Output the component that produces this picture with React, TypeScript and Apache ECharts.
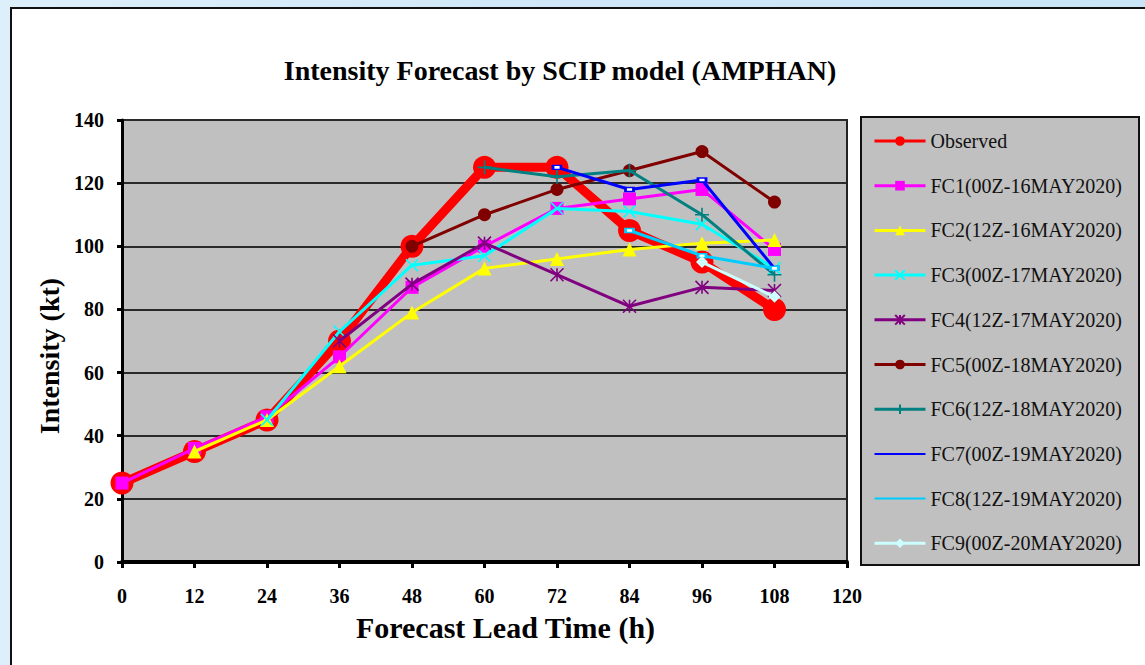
import React, { useEffect, useRef } from "react";
import * as echarts from "echarts";

const leadTimes = [0, 12, 24, 36, 48, 60, 72, 84, 96, 108];
const xTicks = [0, 12, 24, 36, 48, 60, 72, 84, 96, 108, 120];
const yTicks = [0, 20, 40, 60, 80, 100, 120, 140];

const observed = [25, 35, 45, 70, 100, 125, 125, 105, 95, 80];
const fc1 = [25, 36, 46, 65, 87, 100, 112, 115, 118, 99];
const fc2 = [null, 35, 45, 62, 79, 93, 96, 99, 101, 102];
const fc3 = [null, null, 45, 73, 94, 97, 112, 111, 107, 93];
const fc4 = [null, null, null, 70, 88, 101, 91, 81, 87, 86];
const fc5 = [null, null, null, null, 100, 110, 118, 124, 130, 114];
const fc6 = [null, null, null, null, null, 125, 122, 124, 110, 91];
const fc7 = [null, null, null, null, null, null, 125, 118, 121, 93];
const fc8 = [null, null, null, null, null, null, null, 105, 97, 93];
const fc9 = [null, null, null, null, null, null, null, null, 95, 84];

const names = [
  "Observed",
  "FC1(00Z-16MAY2020)",
  "FC2(12Z-16MAY2020)",
  "FC3(00Z-17MAY2020)",
  "FC4(12Z-17MAY2020)",
  "FC5(00Z-18MAY2020)",
  "FC6(12Z-18MAY2020)",
  "FC7(00Z-19MAY2020)",
  "FC8(12Z-19MAY2020)",
  "FC9(00Z-20MAY2020)",
];
const values = [observed, fc1, fc2, fc3, fc4, fc5, fc6, fc7, fc8, fc9];
const colors = [
  "#ff0000",
  "#ff00ff",
  "#ffff00",
  "#00ffff",
  "#800080",
  "#800000",
  "#008080",
  "#0000ff",
  "#00ccff",
  "#ccffff",
];

const X_SYM = "path://M0,0L10,10M10,0L0,10";
const AST_SYM = "path://M0,0L10,10M10,0L0,10M5,0L5,10";
const PLUS_SYM = "path://M5,0L5,10M0,5L10,5";
const LINE_ICON = "path://M0,0H51V2H0Z";

const symbols: any[] = [
  "circle",
  "rect",
  "triangle",
  X_SYM,
  AST_SYM,
  "circle",
  PLUS_SYM,
  "emptyRect",
  "emptyRect",
  "diamond",
];
const symbolSizes: any[] = [23, 13, 14, 12, 13, 13, 14, [8, 4], [8, 4], 12];

const SERIF = "'Liberation Serif', 'Times New Roman', serif";

export default function App() {
  const ref = useRef<HTMLDivElement>(null);
  useEffect(() => {
    document.body.style.margin = "0";
    const chart = echarts.init(ref.current!, undefined, { renderer: "svg" });
    const series = names.map((name, si) => ({
      name,
      type: "line",
      data: leadTimes
        .map((t, i) => [t, values[si][i]])
        .filter((p) => p[1] !== null),
      symbol: symbols[si],
      symbolSize: symbolSizes[si],
      showAllSymbol: true,
      lineStyle: { color: colors[si], width: si === 0 ? 9 : 3 },
      itemStyle: {
        color: colors[si],
        borderColor: colors[si],
        borderWidth: si === 3 || si === 4 || si === 6 ? 1.6 : si === 7 || si === 8 ? 1.2 : 0,
      },
      emphasis: { disabled: true },
      z: 2 + si,
    }));
    chart.setOption({
      animation: false,
      backgroundColor: {
        type: "linear",
        x: 0,
        y: 0,
        x2: 1,
        y2: 0,
        colorStops: [
          { offset: 0, color: "#ddeffa" },
          { offset: 0.5, color: "#cfe7f8" },
          { offset: 1, color: "#c9e5f8" },
        ],
      },
      title: {
        text: "Intensity Forecast by SCIP model (AMPHAN)",
        left: 560,
        top: 56,
        padding: 0,
        textAlign: "center",
        textStyle: {
          fontFamily: SERIF,
          fontWeight: "bold",
          fontSize: 28,
          color: "#000",
        },
      },
      graphic: [
        {
          type: "rect",
          z: -10,
          shape: { x: 11, y: 8, width: 1200, height: 700 },
          style: { fill: "#ffffff", stroke: "#111", lineWidth: 2 },
        },
        {
          type: "rect",
          z: -5,
          shape: { x: 861, y: 117, width: 278, height: 448 },
          style: { fill: "#c0c0c0", stroke: "#111", lineWidth: 2 },
        },
      ],
      grid: {
        left: 122,
        right: 298,
        top: 120,
        bottom: 103,
        show: true,
        backgroundColor: "#c0c0c0",
        borderColor: "#222",
        borderWidth: 2,
      },
      legend: {
        orient: "vertical",
        left: 873,
        top: 131,
        padding: 0,
        itemWidth: 51,
        itemHeight: 12,
        itemGap: 24.7,
        selectedMode: false,
        lineStyle: { width: 3 },
        data: names.map((n, i) =>
          i === 7 || i === 8
            ? { name: n, icon: LINE_ICON, itemStyle: { borderWidth: 0 } }
            : { name: n }
        ),
        textStyle: {
          fontFamily: SERIF,
          fontSize: 20,
          lineHeight: 20,
          color: "#111",
        },
      },
      xAxis: {
        type: "value",
        min: 0,
        max: 120,
        interval: 12,
        name: "Forecast Lead Time (h)",
        nameLocation: "middle",
        nameGap: 50,
        nameTextStyle: {
          fontFamily: SERIF,
          fontWeight: "bold",
          fontSize: 30,
          color: "#000",
          padding: [0, 0, 0, 42],
        },
        axisLine: { show: true, lineStyle: { color: "#000", width: 4 } },
        axisTick: { show: true, length: 6, lineStyle: { color: "#000", width: 3 } },
        axisLabel: {
          margin: 24,
          fontFamily: SERIF,
          fontWeight: "bold",
          fontSize: 20,
          color: "#000",
          formatter: (v: number) => (xTicks.includes(v) ? String(v) : ""),
        },
        splitLine: { show: false },
      },
      yAxis: {
        type: "value",
        min: 0,
        max: 140,
        interval: 20,
        name: "Intensity (kt)",
        nameLocation: "middle",
        nameRotate: 90,
        nameGap: 58,
        nameTextStyle: {
          fontFamily: SERIF,
          fontWeight: "bold",
          fontSize: 28,
          color: "#000",
          padding: [0, 30, 0, 0],
        },
        axisLine: { show: true, lineStyle: { color: "#000", width: 3 } },
        axisTick: { show: true, length: 5, lineStyle: { color: "#000", width: 3 } },
        axisLabel: {
          margin: 18,
          fontFamily: SERIF,
          fontWeight: "bold",
          fontSize: 20,
          color: "#000",
          formatter: (v: number) => (yTicks.includes(v) ? String(v) : ""),
        },
        splitLine: { show: true, lineStyle: { color: "#2a2a2a", width: 2 } },
      },
      series,
    });
    return () => chart.dispose();
  }, []);
  return <div ref={ref} style={{ width: 1145, height: 665 }} />;
}
